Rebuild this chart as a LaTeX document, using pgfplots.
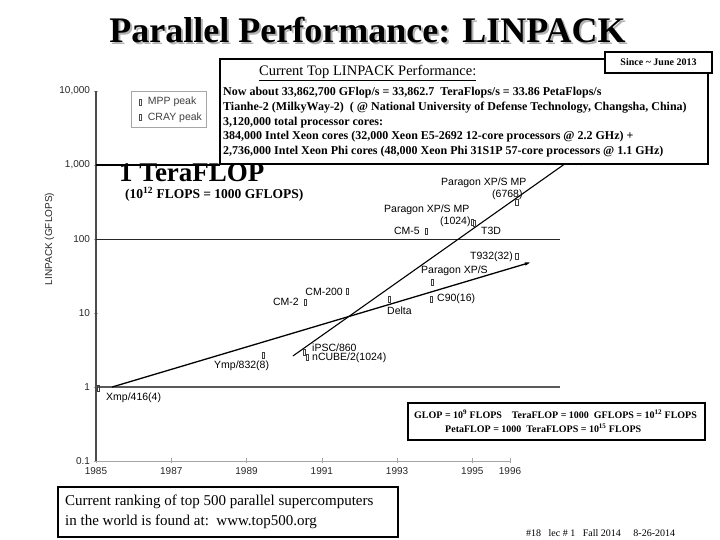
\documentclass[border=0pt]{standalone}
\usepackage{fontspec}
\setmainfont{Liberation Serif}
\setsansfont{Liberation Sans}
\usepackage{pgfplots}
\pgfplotsset{compat=1.18}
\usetikzlibrary{arrows.meta}

% small open slot used for the peak points
\pgfdeclareplotmark{slot}{%
  \pgfpathrectangle{\pgfpoint{-1.1pt}{-3pt}}{\pgfpoint{2.2pt}{6pt}}%
  \pgfusepathqstroke}

\newcommand{\lab}{\sffamily\fontsize{10.5}{12}\selectfont}
\newcommand{\boxtxt}{\bfseries\fontsize{12}{14}\selectfont}

\begin{document}
\begin{tikzpicture}[x=1pt,y=1pt]
\path[use as bounding box] (0,0) rectangle (720,540);

% slide title with its shadow
\node[text=gray!60, font=\bfseries\fontsize{36}{38}\selectfont] at (369.5,507.5) {Parallel Performance: LINPACK};
\node[font=\bfseries\fontsize{36}{38}\selectfont] at (367.5,509.5) {Parallel Performance: LINPACK};

\begin{axis}[
  at={(96pt,79pt)}, anchor=south west, scale only axis,
  width=414pt, height=370pt,
  xmin=1985, xmax=1996, ymin=0.1, ymax=10000, ymode=log,
  clip=false,
  axis x line=bottom, axis y line=left,
  x axis line style={-, draw=gray!70, line width=0.8pt},
  y axis line style={-, draw=black!70, line width=1.3pt},
  xtick={1985,1987,1989,1991,1993,1995,1996},
  xticklabels={1985,1987,1989,1991,1993,1995,1996},
  ytick={0.1,1,10,100,1000,10000},
  yticklabels={0.1,1,10,100,{1,000},{10,000}},
  minor ytick={0.2,0.3,0.4,0.5,0.6,0.7,0.8,0.9,2,3,4,5,6,7,8,9,20,30,40,50,60,70,80,90,200,300,400,500,600,700,800,900,2000,3000,4000,5000,6000,7000,8000,9000},
  major tick length=5pt, minor tick length=3pt,
  tick style={gray!70, line width=0.6pt},
  tick label style={font=\sffamily\fontsize{10}{12}\selectfont, text=black!85},
  /pgf/number format/assume math mode=true,
  ylabel={LINPACK (GFLOPS)},
  ylabel style={at={(axis description cs:-0.112,0.6)}, anchor=center, font=\sffamily\fontsize{10}{12}\selectfont, text=black!85},
  legend style={at={(0.0845,1.0)}, anchor=north west, draw=gray!70, line width=0.6pt,
    font=\sffamily\fontsize{10.5}{12}\selectfont, text=black!75,
    inner xsep=2pt, inner ysep=4pt, row sep=2pt},
  legend cell align=left,
]
\addlegendimage{legend image code/.code={%
    \path (0pt,-3pt) (12pt,3pt);
    \draw[black!70, line width=0.4pt] (5.9pt,-3pt) rectangle (8.1pt,3pt);}}
\addlegendentry{MPP peak}
\addlegendimage{legend image code/.code={%
    \path (0pt,-3pt) (12pt,3pt);
    \draw[black!70, line width=0.4pt] (5.9pt,-3pt) rectangle (8.1pt,3pt);}}
\addlegendentry{CRAY peak}

% reference levels
\addplot[forget plot, black, line width=2.6pt] coordinates {(1985,1000) (1988.3,1000)};
\addplot[forget plot, black!85, line width=0.9pt] coordinates {(1985,100) (1997.33,100)};
\addplot[forget plot, black!65, line width=1.3pt] coordinates {(1985,1) (1997.33,1)};

% CRAY trend
\addplot[forget plot, black, line width=1.3pt, -{Latex[length=7pt,width=3.5pt]}]
  coordinates {(1985.43,1.0) (1996.58,48.9)};
% MPP trend
\addplot[forget plot, black, line width=1.1pt]
  coordinates {(1990.23,2.62) (1997.49,1064)};

% peak machines
\addplot[forget plot, only marks, mark=slot, mark options={draw=black!75, line width=0.4pt}]
  coordinates {
  (1985.05,0.97)   % Xmp/416(4)
  (1989.44,2.7)    % Ymp/832(8)
  (1990.53,2.97)   % iPSC/860
  (1990.61,2.54)   % nCUBE/2(1024)
  (1990.55,14.1)   % CM-2
  (1991.67,19.8)   % CM-200
  (1992.78,15.5)   % Delta
  (1993.90,15.5)   % C90(16)
  (1993.93,26.2)   % Paragon XP/S
  (1996.18,58.9)   % T932(32)
  (1993.77,128)    % CM-5
  (1995.00,170)    % Paragon XP/S MP (1024)
  (1995.05,165)
  (1996.18,316)    % Paragon XP/S MP (6768)
  (1997.38,1245)   % ASCI Red
  };
\end{axis}

% machine labels
\node[font=\lab, anchor=west, inner sep=0] at (106,142) {Xmp/416(4)};
\node[font=\lab, anchor=west, inner sep=0] at (214,174) {Ymp/832(8)};
\node[font=\lab, anchor=west, inner sep=0] at (312,192) {iPSC/860};
\node[font=\lab, anchor=west, inner sep=0] at (312,182) {nCUBE/2(1024)};
\node[font=\lab, anchor=east, inner sep=0] at (299,238) {CM-2};
\node[font=\lab, anchor=east, inner sep=0] at (343,248) {CM-200};
\node[font=\lab, anchor=west, inner sep=0] at (387,229) {Delta};
\node[font=\lab, anchor=west, inner sep=0] at (437,241) {C90(16)};
\node[font=\lab, anchor=west, inner sep=0] at (421,269) {Paragon XP/S};
\node[font=\lab, anchor=east, inner sep=0] at (513,283) {T932(32)};
\node[font=\lab, anchor=east, inner sep=0] at (420,309) {CM-5};
\node[font=\lab, anchor=west, inner sep=0] at (481,309) {T3D};
\node[font=\lab, anchor=west, inner sep=0] at (384,330) {Paragon XP/S MP};
\node[font=\lab, anchor=west, inner sep=0] at (440,318) {(1024)};
\node[font=\lab, anchor=west, inner sep=0] at (441,357) {Paragon XP/S MP};
\node[font=\lab, anchor=west, inner sep=0] at (492,345) {(6768)};
\node[font=\lab, anchor=west, inner sep=0] at (538,378) {ASCI Red};

% TeraFLOP note
\node[font=\bfseries\fontsize{27}{28}\selectfont, anchor=base west, inner sep=0, text height=17pt, text depth=0pt] at (119,358.5) {1 TeraFLOP};
\node[font=\bfseries\fontsize{13.5}{15}\selectfont, anchor=base west, inner sep=0, text height=9.5pt, text depth=2.5pt] at (125,341) {(10\textsuperscript{12} FLOPS = 1000 GFLOPS)};

% top performance box
\draw[line width=2.2pt, fill=white] (220,376) rectangle (708,481);
\node[font=\fontsize{14.5}{16}\selectfont, anchor=west, inner sep=0] at (259,467) {\underline{Current Top LINPACK Performance:}};
\node[font=\boxtxt, anchor=west, inner sep=0] at (223,447) {Now about 33,862,700 GFlop/s = 33,862.7\ \ TeraFlops/s = 33.86 PetaFlops/s};
\node[font=\boxtxt, anchor=west, inner sep=0] at (223,432) {Tianhe-2 (MilkyWay-2)\ \ ( @ National University of Defense Technology, Changsha, China)};
\node[font=\boxtxt, anchor=west, inner sep=0] at (223,417) {3,120,000 total processor cores:};
\node[font=\boxtxt, anchor=west, inner sep=0] at (223,403) {384,000 Intel Xeon cores (32,000 Xeon E5-2692 12-core processors @ 2.2 GHz) +};
\node[font=\boxtxt, anchor=west, inner sep=0] at (223,388) {2,736,000 Intel Xeon Phi cores (48,000 Xeon Phi 31S1P 57-core processors @ 1.1 GHz)};
\draw[line width=1.8pt, fill=white] (605,467) rectangle (712,488);
\node[font=\bfseries\fontsize{10}{12}\selectfont] at (658.5,477.5) {Since \textasciitilde\ June 2013};

% units box
\draw[line width=2pt] (408,100) rectangle (705,137);
\node[font=\bfseries\fontsize{10}{11}\selectfont, anchor=west, inner sep=0] at (414,126) {GLOP = 10\textsuperscript{9} FLOPS\quad TeraFLOP = 1000\ \ GFLOPS = 10\textsuperscript{12} FLOPS};
\node[font=\bfseries\fontsize{10}{11}\selectfont, anchor=west, inner sep=0] at (445,112) {PetaFLOP = 1000\ \ TeraFLOPS = 10\textsuperscript{15} FLOPS};

% top500 box
\draw[line width=2pt] (58,3) rectangle (398,53);
\node[font=\fontsize{15}{17}\selectfont, anchor=west, inner sep=0] at (65,38) {Current ranking of top 500 parallel supercomputers};
\node[font=\fontsize{15}{17}\selectfont, anchor=west, inner sep=0] at (65,18) {in the world is found at:\ \ www.top500.org};

% footer
\node[font=\fontsize{10}{11}\selectfont, anchor=west, inner sep=0] at (526,7) {\#18\ \ \ lec \# 1\ \ \ Fall 2014\ \ \ \ \ 8-26-2014};
\end{tikzpicture}
\end{document}
